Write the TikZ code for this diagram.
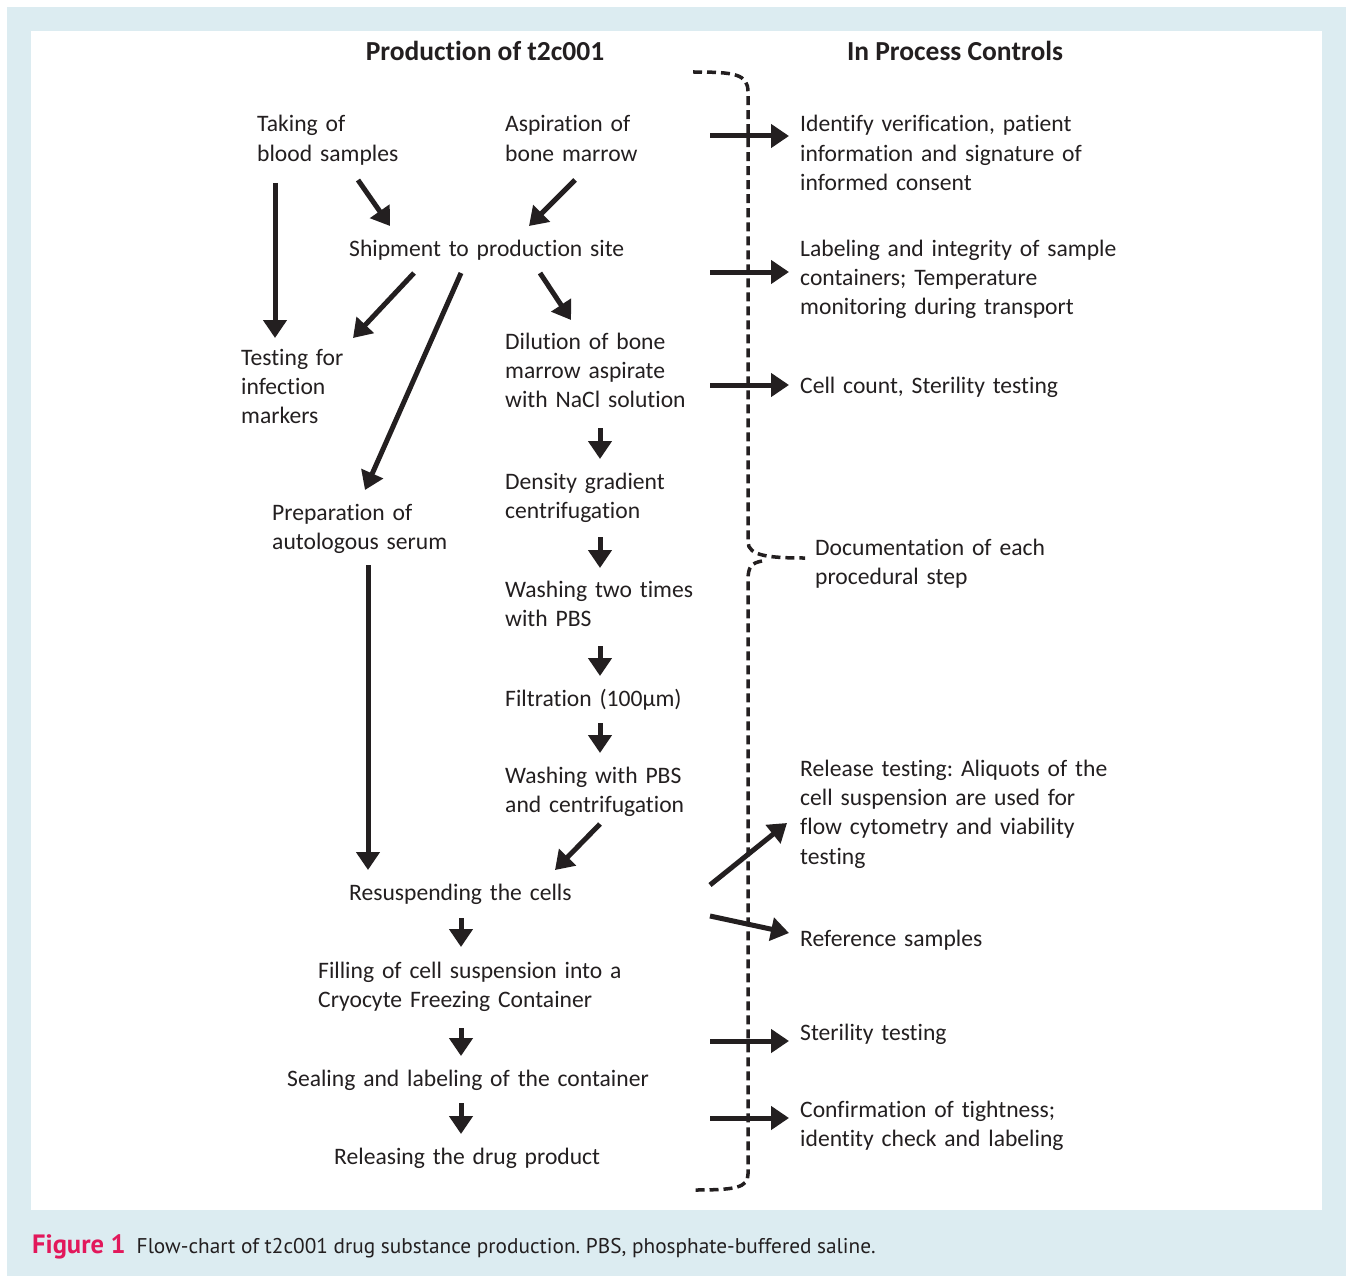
\documentclass[tikz,border=0pt]{standalone}
\usepackage{fontspec}
\setmainfont[RawFeature={-liga;-clig;-calt;-dlig}]{Carlito}
\newfontfamily\capfont{PT Sans}
\usetikzlibrary{arrows.meta}
\definecolor{ink}{HTML}{231F20}
\definecolor{frameblue}{HTML}{DCECF1}
\definecolor{figred}{HTML}{E2185B}
\frenchspacing
\begin{document}
\begin{tikzpicture}[x=1pt,y=-1pt,
  txt/.style={anchor=base west, inner sep=0pt, text width=420pt, align=left,
    font=\fontsize{23.6}{29.4}\selectfont, text=ink},
  head/.style={anchor=base, inner sep=0pt,
    font=\fontsize{27.5}{30}\selectfont\bfseries, text=ink},
  flow/.style={draw=ink, line width=5pt, -{Triangle[length=18pt,width=23pt]}},
  bracestyle/.style={draw=ink, line width=3.5pt, dash pattern=on 9pt off 5pt}]
\useasboundingbox (0,0) rectangle (1346,1276);
\fill[white] (0,0) rectangle (1346,1276);
\fill[frameblue] (7,7) rectangle (1346,1276);
\fill[white] (31,31) rectangle (1322,1210);

% headers
\node[head] (hprod) at (485,61) {Production of t2c001};
\node[head] (hipc) at (955,61) {In Process Controls};

% production column
\node[txt] (blood) at (257,132) {Taking of\\blood samples};
\node[txt] (bone) at (505,132) {Aspiration of\\bone marrow};
\node[txt] (ship) at (349,256) {Shipment to production site};
\node[txt] (test) at (241,365) {Testing for\\infection\\markers};
\node[txt] (dil) at (505,349) {Dilution of bone\\marrow aspirate\\with NaCl solution};
\node[txt] (dens) at (505,489) {Density gradient\\centrifugation};
\node[txt] (serum) at (272,520) {Preparation of\\autologous serum};
\node[txt] (wash2) at (505,597) {Washing two times\\with PBS};
\node[txt] (filt) at (505,706) {Filtration (100µm)};
\node[txt] (washc) at (505,783) {Washing with PBS\\and centrifugation};
\node[txt] (resus) at (349,900) {Resuspending the cells};
\node[txt] (fill) at (318,978) {Filling of cell suspension into a\\Cryocyte Freezing Container};
\node[txt] (seal) at (287,1086) {Sealing and labeling of the container};
\node[txt] (rel) at (334,1164) {Releasing the drug product};

% controls column
\node[txt] (c1) at (800,132) {Identify verification, patient\\information and signature of\\informed consent};
\node[txt] (c2) at (800,256) {Labeling and integrity of sample\\containers; Temperature\\monitoring during transport};
\node[txt] (c3) at (800,393) {Cell count, Sterility testing};
\node[txt] (c4) at (815,555) {Documentation of each\\procedural step};
\node[txt] (c5) at (800,776) {Release testing: Aliquots of the\\cell suspension are used for\\flow cytometry and viability\\testing};
\node[txt] (c6) at (800,946) {Reference samples};
\node[txt] (c7) at (800,1040) {Sterility testing};
\node[txt] (c8) at (800,1117) {Confirmation of tightness;\\identity check and labeling};

% brace
\draw[bracestyle] (693,72) .. controls (735,72) and (748,74) .. (748,92)
  -- (748,542) .. controls (748,556) and (770,558) .. (805,558);
\draw[bracestyle] (762,561) .. controls (752,563) and (748,566) .. (748,580)
  -- (748,1174) .. controls (748,1188) and (735,1190) .. (693,1190);

% arrow end points
\coordinate (a1s) at (275,183); \coordinate (a1e) at (275,338);
\coordinate (a2s) at (358,180); \coordinate (a2e) at (390,226);
\coordinate (a3s) at (575,180); \coordinate (a3e) at (529,226);
\coordinate (a4s) at (414,273); \coordinate (a4e) at (353,338);
\coordinate (a5s) at (461,273); \coordinate (a5e) at (365,490);
\coordinate (a6s) at (540,273); \coordinate (a6e) at (571,320);
\coordinate (d1s) at (600,428); \coordinate (d1e) at (600,459);
\coordinate (d2s) at (600,537); \coordinate (d2e) at (600,568);
\coordinate (d3s) at (600,646); \coordinate (d3e) at (600,676);
\coordinate (d4s) at (600,723); \coordinate (d4e) at (600,753);
\coordinate (a7s) at (600,824); \coordinate (a7e) at (555,870);
\coordinate (a8s) at (368,565); \coordinate (a8e) at (368,870);
\coordinate (d5s) at (461,918); \coordinate (d5e) at (461,947);
\coordinate (d6s) at (461,1028); \coordinate (d6e) at (461,1056);
\coordinate (d7s) at (461,1103); \coordinate (d7e) at (461,1134);
\coordinate (r1s) at (710,136); \coordinate (r1e) at (789,136);
\coordinate (r2s) at (710,272); \coordinate (r2e) at (789,272);
\coordinate (r3s) at (710,385); \coordinate (r3e) at (789,385);
\coordinate (r4s) at (710,885); \coordinate (r4e) at (787,823);
\coordinate (r5s) at (710,916); \coordinate (r5e) at (789,933);
\coordinate (r6s) at (710,1041); \coordinate (r6e) at (789,1041);
\coordinate (r7s) at (710,1118); \coordinate (r7e) at (789,1118);

\foreach \s/\e in {a1s/a1e,a2s/a2e,a3s/a3e,a4s/a4e,a5s/a5e,a6s/a6e,
  d1s/d1e,d2s/d2e,d3s/d3e,d4s/d4e,a7s/a7e,a8s/a8e,d5s/d5e,d6s/d6e,d7s/d7e,
  r1s/r1e,r2s/r2e,r3s/r3e,r4s/r4e,r5s/r5e,r6s/r6e,r7s/r7e}
  \draw[flow] (\s) -- (\e);

% caption
\node[anchor=base west, inner sep=0pt, font=\capfont\fontsize{21.3}{24}\selectfont, text=ink] (cap) at (32,1253)
  {\textcolor{figred}{\fontsize{26.5}{28}\selectfont\bfseries Figure 1}\hspace{11pt}Flow-chart of t2c001 drug substance production. PBS, phosphate-buffered saline.};
\end{tikzpicture}
\end{document}
